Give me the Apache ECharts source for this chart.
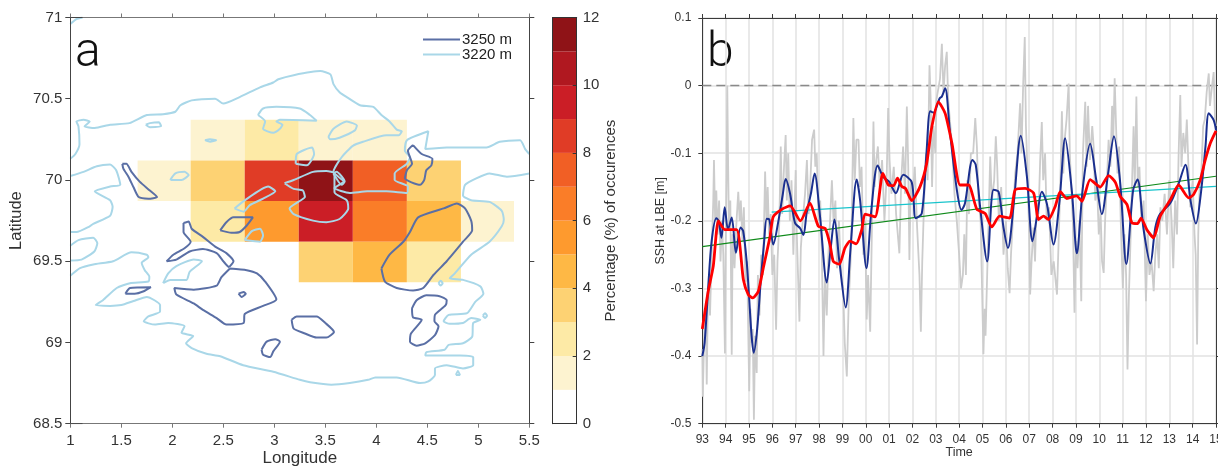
<!DOCTYPE html>
<html>
<head>
<meta charset="utf-8">
<title>SSH at LBE</title>
<script src="https://cdn.jsdelivr.net/npm/echarts@6/dist/echarts.min.js"></script>
<style>
	html, body { margin: 0; padding: 0; background: #fff; }
	#chart { width: 1218px; height: 467px; }
</style>
</head>
<body>
<div id="chart"></div>
<script>
// panel a: occurrence cells
const lonEdges = [1.66, 2.18, 2.71, 3.24, 3.77, 4.30, 4.83, 5.35]
const latEdges = [70.37, 70.12, 69.87, 69.62, 69.37]
const occurrenceRow1 = [null, 1.5, 2.5, 1.5, 1.5, null, null]
const occurrenceRow2 = [1.5, 3.5, 8.5, 11.5, 7.5, 3.5, null]
const occurrenceRow3 = [null, 2.5, 5.5, 9.5, 6.5, 4.5, 1.5]
const occurrenceRow4 = [null, null, null, 3.5, 4.5, 2.5, null]
const levelColors = ["#ffffff", "#fdf3d0", "#fdeaa6", "#fdd273", "#feb845", "#fe9a2e", "#fa7d28", "#f15f25", "#e03c26", "#cb1e26", "#b01820", "#8f1317"]

// short inner ticks at the left corners of panel a
const cornerTickTop = [[1, 71], [1.12, 71]]
const cornerTickBottom = [[1, 68.5], [1.12, 68.5]]

// 3220 m contours (lon, lat), open ones first
const shallowCorner = [[1, 70.96], [1.06, 70.99], [1.12, 71]]
const shallowNorth = [[1, 70.13], [1.05, 70.16], [1.09, 70.22], [1.08, 70.33], [1.06, 70.36], [1.13, 70.37], [1.19, 70.36], [1.14, 70.33], [1.24, 70.32], [1.39, 70.34], [1.58, 70.35], [1.75, 70.40], [1.91, 70.405], [2.03, 70.42], [2.08, 70.46], [2.19, 70.49], [2.42, 70.50], [2.50, 70.47], [2.66, 70.51], [2.86, 70.57], [2.99, 70.60], [3.04, 70.62], [3.19, 70.645], [3.45, 70.67], [3.55, 70.65], [3.58, 70.59], [3.64, 70.54], [3.71, 70.51], [3.84, 70.46], [3.97, 70.45], [4.05, 70.40], [4.13, 70.36], [4.20, 70.31], [4.25, 70.30], [4.22, 70.275], [4.10, 70.275], [3.87, 70.235], [3.77, 70.21], [3.66, 70.14], [3.58, 70.05], [3.68, 69.99], [3.59, 69.95], [3.74, 69.92], [3.91, 69.93], [4.10, 69.93], [4.30, 69.92], [4.31, 69.96], [4.18, 70.00], [4.18, 70.04], [4.30, 70.10], [4.33, 70.14], [4.28, 70.18], [4.30, 70.245], [4.51, 70.30], [4.48, 70.19], [4.69, 70.20], [5.08, 70.20], [5.21, 70.235], [5.41, 70.245], [5.46, 70.19], [5.5, 70.16]]
const shallowWest = [[1, 70.025], [1.13, 70.05], [1.26, 70.085], [1.39, 70.095], [1.45, 70.06], [1.49, 69.97], [1.39, 69.96], [1.24, 69.93], [1.39, 69.875], [1.415, 69.835], [1.39, 69.78], [1.225, 69.73], [1.19, 69.715], [1.06, 69.68], [1, 69.68]]
const shallowWestBlob = [[1, 69.595], [1.08, 69.63], [1.225, 69.645], [1.265, 69.61], [1.235, 69.56], [1.11, 69.51], [1, 69.505]]
const shallowSouth = [[1, 69.41], [1.095, 69.457], [1.225, 69.48], [1.42, 69.50], [1.60, 69.555], [1.75, 69.54], [1.765, 69.525], [1.70, 69.49], [1.73, 69.445], [1.775, 69.405], [1.765, 69.375], [1.585, 69.365], [1.455, 69.335], [1.32, 69.26], [1.25, 69.23], [1.39, 69.225], [1.50, 69.23], [1.62, 69.255], [1.75, 69.28], [1.88, 69.23], [1.88, 69.19], [1.765, 69.16], [1.72, 69.13], [1.83, 69.11], [1.96, 69.12], [2.12, 69.10], [2.09, 69.06], [2.205, 69.04], [2.135, 68.995], [2.19, 68.965], [2.335, 68.93], [2.47, 68.915], [2.695, 68.86], [2.99, 68.82], [3.25, 68.77], [3.35, 68.755], [3.56, 68.74], [3.74, 68.75], [3.92, 68.77], [3.99, 68.785], [4.20, 68.785], [4.43, 68.75], [4.51, 68.76], [4.575, 68.80], [4.575, 68.84], [4.69, 68.86], [4.85, 68.84], [4.95, 68.86], [4.95, 68.91], [4.82, 68.92], [4.48, 68.92], [4.49, 68.94], [4.67, 68.955], [4.71, 68.985], [4.85, 68.995], [4.94, 69.035], [4.95, 69.12], [5.02, 69.14], [4.93, 69.15], [4.85, 69.12], [4.72, 69.115], [4.66, 69.13], [4.71, 69.17], [4.89, 69.18], [4.97, 69.25], [5.05, 69.30], [5.02, 69.345], [4.85, 69.385], [4.72, 69.395], [4.77, 69.425], [4.93, 69.54], [5.11, 69.62], [5.23, 69.715], [5.25, 69.755], [5.23, 69.81], [5.11, 69.865], [4.93, 69.875], [4.85, 69.905], [4.87, 69.97], [4.98, 70.01], [5.11, 70.04], [5.28, 70.02], [5.5, 70.04]]
const shallowBlobs = [
	[[1.74, 70.34], [1.78, 70.35], [1.87, 70.355], [1.89, 70.33], [1.78, 70.325]],
	[[2.32, 70.245], [2.37, 70.25], [2.43, 70.245], [2.37, 70.235]],
	[[2.84, 70.40], [2.89, 70.44], [3.02, 70.45], [3.25, 70.44], [3.35, 70.40], [3.415, 70.365], [3.055, 70.37], [3.02, 70.36], [3.08, 70.34], [3.055, 70.315], [2.99, 70.29], [2.89, 70.315], [2.91, 70.36]],
	[[3.53, 70.265], [3.58, 70.315], [3.71, 70.36], [3.81, 70.335], [3.79, 70.305], [3.64, 70.26], [3.55, 70.25]],
	[[3.21, 70.10], [3.22, 70.16], [3.37, 70.20], [3.39, 70.16], [3.32, 70.09]],
	[[1.98, 70.00], [2.03, 70.04], [2.12, 70.05], [2.16, 70.03], [2.09, 70.00]],
	[[2.61, 69.825], [2.71, 69.875], [2.94, 69.96], [3.01, 69.93], [2.89, 69.885], [2.76, 69.845], [2.70, 69.805]],
	[[2.71, 69.63], [2.78, 69.685], [2.86, 69.70], [2.89, 69.66], [2.86, 69.62]],
	[[1.91, 69.365], [1.96, 69.425], [2.04, 69.47], [2.21, 69.51], [2.29, 69.50], [2.17, 69.435], [2.14, 69.385], [1.98, 69.385]],
	[[3.10, 69.98], [3.19, 70.00], [3.38, 70.05], [3.51, 70.055], [3.59, 70.04], [3.59, 69.925], [3.71, 69.875], [3.725, 69.825], [3.64, 69.76], [3.51, 69.74], [3.38, 69.75], [3.19, 69.79], [3.15, 69.825], [3.235, 69.865], [3.30, 69.895], [3.28, 69.935], [3.19, 69.945]],
	[[3.58, 70.04], [3.61, 70.05], [3.69, 69.99], [3.66, 69.97]],
	[[4.61, 69.365], [4.63, 69.38], [4.65, 69.365], [4.63, 69.35]],
	[[5.045, 69.165], [5.065, 69.18], [5.085, 69.165], [5.065, 69.15]],
	[[4.78, 68.80], [4.80, 68.825], [4.82, 68.80]]
]

// 3250 m contours (lon, lat)
const deepBlobs = [
	[[1.51, 70.10], [1.55, 70.10], [1.60, 70.05], [1.68, 69.99], [1.78, 69.935], [1.85, 69.895], [1.765, 69.885], [1.67, 69.895], [1.62, 69.955], [1.57, 70.02], [1.52, 70.07]],
	[[2.11, 69.735], [2.16, 69.745], [2.19, 69.70], [2.30, 69.65], [2.42, 69.59], [2.53, 69.55], [2.60, 69.50], [2.555, 69.465], [2.50, 69.50], [2.435, 69.55], [2.30, 69.575], [2.17, 69.56], [2.04, 69.51], [1.945, 69.50], [2.01, 69.54], [2.12, 69.58], [2.18, 69.62], [2.11, 69.68]],
	[[2.565, 69.455], [2.73, 69.445], [2.83, 69.425], [2.91, 69.375], [3.02, 69.265], [2.89, 69.225], [2.71, 69.175], [2.70, 69.12], [2.53, 69.11], [2.435, 69.15], [2.30, 69.20], [2.21, 69.24], [2.04, 69.295], [2.02, 69.335], [2.21, 69.325], [2.435, 69.35], [2.48, 69.40]],
	[[2.65, 69.30], [2.70, 69.31], [2.72, 69.30], [2.68, 69.28]],
	[[1.54, 69.30], [1.585, 69.335], [1.79, 69.34], [1.72, 69.315], [1.63, 69.30]],
	[[2.47, 69.69], [2.53, 69.74], [2.60, 69.77], [2.79, 69.77], [2.73, 69.72], [2.66, 69.68], [2.58, 69.675]],
	[[3.17, 69.14], [3.22, 69.16], [3.415, 69.16], [3.50, 69.12], [3.585, 69.065], [3.51, 69.03], [3.415, 69.03], [3.30, 69.055], [3.19, 69.085]],
	[[2.875, 68.955], [2.925, 69.005], [3.01, 69.02], [3.055, 69.005], [2.99, 68.945], [2.96, 68.91], [2.89, 68.925]],
	[[4.05, 69.455], [4.13, 69.54], [4.265, 69.62], [4.33, 69.68], [4.41, 69.77], [4.66, 69.825], [4.79, 69.855], [4.87, 69.825], [4.93, 69.75], [4.94, 69.69], [4.85, 69.62], [4.69, 69.50], [4.56, 69.415], [4.46, 69.335], [4.36, 69.32], [4.20, 69.335], [4.085, 69.375]],
	[[4.35, 69.21], [4.395, 69.26], [4.49, 69.29], [4.62, 69.285], [4.69, 69.26], [4.68, 69.23], [4.575, 69.17], [4.57, 69.13], [4.61, 69.10], [4.575, 69.045], [4.48, 68.995], [4.395, 68.98], [4.33, 69.005], [4.34, 69.055], [4.445, 69.14], [4.36, 69.155]],
	[[4.36, 70.215], [4.445, 70.16], [4.55, 70.13], [4.54, 70.09], [4.49, 70.06], [4.47, 70.00], [4.43, 69.97], [4.28, 70.01], [4.30, 70.06], [4.35, 70.10], [4.31, 70.18]]
]

// panel b: year since 1900, SSH in m
const yearTicks = ["93", "94", "95", "96", "97", "98", "99", "00", "01", "02", "03", "04", "05", "06", "07", "08", "09", "10", "11", "12", "13", "14", "15"]
const sshDaily = [[93, -.39], [93.02, -.46], [93.06, -.40], [93.1, -.36], [93.15, -.33], [93.19, -.442], [93.23, -.33], [93.28, -.28], [93.33, -.34], [93.4, -.25], [93.47, -.17], [93.5, -.11], [93.55, -.2], [93.6, -.155], [93.65, -.22], [93.72, -.17], [93.78, -.26], [93.84, -.20], [93.9, -.25], [93.97, -.396],
	[94, -.24], [94.04, -.13], [94.07, 0], [94.1, -.1], [94.14, -.21], [94.2, -.17], [94.26, -.398], [94.3, -.22], [94.38, -.27], [94.45, -.21], [94.54, -.157], [94.6, -.2], [94.65, -.17], [94.72, -.23], [94.78, -.18], [94.85, -.29], [94.92, -.26],
	[95.01, -.452], [95.06, -.33], [95.11, -.38], [95.16, -.36], [95.21, -.494], [95.26, -.37], [95.33, -.425], [95.38, -.28], [95.45, -.34], [95.52, -.25], [95.6, -.28], [95.69, -.127], [95.75, -.2], [95.8, -.15], [95.86, -.22], [95.93, -.19],
	[96, -.28], [96.08, -.25], [96.16, -.361], [96.22, -.26], [96.3, -.2], [96.36, -.09], [96.42, -.19], [96.5, -.12], [96.57, -.073], [96.62, -.17], [96.68, -.1], [96.75, -.2], [96.82, -.14], [96.9, -.25],
	[97, -.125], [97.03, -.2], [97.1, -.28], [97.16, -.349], [97.22, -.24], [97.3, -.2], [97.4, -.16], [97.48, -.11], [97.55, -.19], [97.62, -.15], [97.7, -.08], [97.79, -.065], [97.84, -.12], [97.9, -.1], [97.98, -.2],
	[98.05, -.17], [98.12, -.25], [98.19, -.40], [98.25, -.28], [98.33, -.34], [98.4, -.25], [98.47, -.2], [98.55, -.14], [98.62, -.2], [98.7, -.17], [98.77, -.27], [98.85, -.2], [98.95, -.28],
	[99.03, -.3], [99.1, -.38], [99.19, -.43], [99.27, -.32], [99.35, -.26], [99.4, -.2], [99.47, -.048], [99.53, -.14], [99.6, -.08], [99.69, -.08], [99.75, -.15], [99.82, -.12], [99.9, -.25], [99.97, -.2],
	[100.04, -.346], [100.1, -.28], [100.19, -.364], [100.26, -.22], [100.33, -.053], [100.38, -.15], [100.45, -.11], [100.52, -.09], [100.6, -.15], [100.7, -.11], [100.8, -.2], [100.9, -.13], [100.96, -.033],
	[101.02, -.11], [101.1, -.16], [101.2, -.12], [101.3, -.19], [101.44, -.248], [101.52, -.14], [101.6, -.09], [101.68, -.16], [101.76, -.031], [101.82, -.12], [101.87, -.258], [101.93, -.14],
	[102, -.17], [102.1, -.12], [102.2, -.21], [102.3, -.28], [102.36, -.364], [102.42, -.26], [102.5, -.17], [102.58, -.1], [102.65, -.14], [102.73, .03], [102.78, -.02], [102.84, -.15], [102.9, -.06], [102.98, -.1],
	[103.03, -.02], [103.11, -.004], [103.18, .01], [103.26, .062], [103.33, -.01], [103.4, .03], [103.47, .05], [103.53, -.02], [103.6, -.05], [103.7, -.09], [103.8, -.16], [103.9, -.2],
	[104, -.25], [104.08, -.30], [104.16, -.28], [104.22, -.22], [104.29, -.28], [104.35, -.14], [104.42, -.19], [104.5, -.1], [104.6, -.1], [104.69, -.048], [104.76, -.09], [104.83, -.17], [104.92, -.2],
	[105.04, -.397], [105.09, -.33], [105.13, -.37], [105.2, -.28], [105.26, -.2], [105.33, -.105], [105.4, -.17], [105.5, -.14], [105.57, -.075], [105.63, -.12], [105.7, -.2], [105.8, -.15], [105.9, -.25],
	[106, -.2], [106.08, -.27], [106.16, -.307], [106.22, -.25], [106.3, -.2], [106.4, -.13], [106.5, -.1], [106.61, -.026], [106.67, -.1], [106.74, 0], [106.81, .072], [106.86, -.06], [106.92, -.12],
	[107, -.22], [107.04, -.309], [107.1, -.26], [107.18, -.21], [107.25, -.26], [107.32, -.17], [107.4, -.19], [107.47, -.11], [107.54, -.054], [107.6, -.14], [107.68, -.1], [107.75, -.2], [107.85, -.18], [107.95, -.28],
	[108.05, -.26], [108.19, -.309], [108.26, -.23], [108.33, -.15], [108.4, -.038], [108.46, -.13], [108.52, -.08], [108.6, -.05], [108.69, .003], [108.74, -.1], [108.8, -.15], [108.87, -.2], [108.94, -.336],
	[109, -.23], [109.07, -.27], [109.15, -.2], [109.23, -.319], [109.3, -.1], [109.4, -.024], [109.46, -.12], [109.52, -.03], [109.6, -.11], [109.7, -.06], [109.76, -.09], [109.83, -.17], [109.9, -.14], [109.98, -.22],
	[110.06, -.19], [110.12, -.26], [110.19, -.277], [110.25, -.2], [110.32, -.15], [110.4, -.08], [110.48, -.12], [110.55, -.03], [110.6, -.08], [110.66, .011], [110.72, -.06], [110.78, -.13], [110.85, -.09], [110.92, -.2],
	[111.01, -.3], [111.08, -.22], [111.15, -.28], [111.21, -.42], [111.27, -.31], [111.33, -.24], [111.4, -.15], [111.47, -.06], [111.52, -.15], [111.59, -.016], [111.65, -.15], [111.72, -.12], [111.8, -.2], [111.9, -.17],
	[112, -.319], [112.08, -.22], [112.15, -.28], [112.24, -.26], [112.33, -.304], [112.4, -.25], [112.48, -.22], [112.55, -.27], [112.62, -.18], [112.7, -.2], [112.8, -.16], [112.9, -.22],
	[113, -.14], [113.1, -.2], [113.17, -.27], [113.25, -.17], [113.33, -.22], [113.4, -.1], [113.47, -.014], [113.52, -.12], [113.6, -.07], [113.68, -.1], [113.75, -.05], [113.82, -.12], [113.9, -.18],
	[114, -.14], [114.08, -.22], [114.13, -.25], [114.19, -.383], [114.24, -.22], [114.3, -.15], [114.37, -.13], [114.45, -.06], [114.52, -.05], [114.6, -.01], [114.69, .018], [114.74, -.03], [114.8, -.01], [114.9, .02], [114.96, -.05], [115, -.06]]
const sshMonthly = [[93, -.40], [93.1, -.38], [93.25, -.30], [93.4, -.23], [93.6, -.196], [93.7, -.2], [93.82, -.225], [93.96, -.18], [94.1, -.213], [94.26, -.195], [94.44, -.247], [94.64, -.21], [94.75, -.215], [94.9, -.26], [95, -.31], [95.1, -.365], [95.2, -.395], [95.35, -.36], [95.5, -.29], [95.65, -.23], [95.76, -.197], [95.87, -.198], [96.04, -.235], [96.26, -.2], [96.45, -.16], [96.57, -.138], [96.76, -.16], [96.97, -.203], [97.19, -.211], [97.33, -.221], [97.47, -.188], [97.65, -.16], [97.81, -.13], [98.04, -.193], [98.33, -.291], [98.5, -.24], [98.66, -.198], [98.87, -.26], [99.14, -.328], [99.35, -.24], [99.61, -.139], [99.76, -.17], [100.03, -.27], [100.25, -.18], [100.51, -.118], [100.75, -.135], [101, -.142], [101.29, -.159], [101.61, -.132], [101.97, -.143], [102.14, -.196], [102.4, -.189], [102.6, -.1], [102.76, -.038], [102.9, -.04], [103.16, -.019], [103.26, -.016], [103.4, -.004], [103.61, -.07], [103.9, -.154], [104.1, -.184], [104.25, -.174], [104.57, -.11], [104.71, -.117], [104.9, -.18], [105.2, -.26], [105.47, -.154], [105.69, -.157], [105.9, -.21], [106.09, -.24], [106.35, -.17], [106.64, -.074], [106.9, -.134], [107.14, -.23], [107.35, -.19], [107.54, -.157], [107.76, -.175], [108.04, -.235], [108.3, -.17], [108.54, -.078], [108.83, -.157], [109.04, -.248], [109.3, -.15], [109.61, -.086], [109.86, -.137], [110.11, -.19], [110.38, -.13], [110.63, -.075], [110.9, -.145], [111.16, -.264], [111.45, -.155], [111.64, -.139], [111.9, -.213], [112.19, -.263], [112.4, -.21], [112.6, -.19], [113.04, -.174], [113.4, -.145], [113.69, -.117], [113.91, -.17], [114.14, -.204], [114.36, -.157], [114.55, -.09], [114.69, -.041], [114.9, -.051], [115, -.066]]
const sshAnnual = [[93, -.36], [93.25, -.305], [93.47, -.267], [93.69, -.2], [93.97, -.213], [94.47, -.213], [94.76, -.287], [94.97, -.309], [95.16, -.314], [95.4, -.304], [95.61, -.27], [95.9, -.223], [96.04, -.194], [96.4, -.183], [96.76, -.178], [97.2, -.2], [97.61, -.174], [97.97, -.208], [98.26, -.211], [98.47, -.235], [98.61, -.26], [98.87, -.264], [99.11, -.24], [99.33, -.23], [99.59, -.234], [99.83, -.213], [99.97, -.19], [100.4, -.194], [100.73, -.13], [100.97, -.147], [101.19, -.148], [101.36, -.137], [101.54, -.149], [101.7, -.152], [101.97, -.17], [102.33, -.149], [102.61, -.115], [102.83, -.061], [103.11, -.024], [103.4, -.041], [103.69, -.085], [104.04, -.147], [104.4, -.147], [104.76, -.183], [105.11, -.189], [105.4, -.209], [105.73, -.193], [106.16, -.196], [106.4, -.154], [106.83, -.152], [107.19, -.159], [107.4, -.198], [107.61, -.193], [107.83, -.198], [108.11, -.179], [108.33, -.157], [108.61, -.167], [109.03, -.163], [109.26, -.171], [109.61, -.139], [110.04, -.15], [110.4, -.133], [110.69, -.143], [110.9, -.164], [111.19, -.176], [111.4, -.203], [111.64, -.204], [111.79, -.196], [112.04, -.213], [112.33, -.225], [112.61, -.193], [113.04, -.169], [113.4, -.147], [113.83, -.166], [114.04, -.161], [114.33, -.139], [114.54, -.11], [114.76, -.085], [115, -.067]]
const trendLong = [[93, -.238], [115, -.134]]
const trendShort = [[95.97, -.187], [115, -.149]]
const zeroLine = [[93, 0], [115, 0]]

const fontName = "Liberation Sans"
const textColor = "#333"

function closed(points) {
	return points.concat([points[0]])
}

function lineSeries(data, color, width, axis, extra) {
	return Object.assign({
		type: "line",
		data: data,
		xAxisIndex: axis,
		yAxisIndex: axis,
		showSymbol: false,
		lineStyle: { color: color, width: width },
		itemStyle: { color: color },
		silent: true,
		z: 3,
	}, extra || {})
}

// axis with the labels and ticks drawn on one side of a panel
function sideAxis(position, gridIndex, min, max, interval, lineColor, extra) {
	let axis = {
		type: "value",
		gridIndex: gridIndex,
		position: position,
		min: min,
		max: max,
		interval: interval,
		z: 5,
		axisLine: { show: true, onZero: false, lineStyle: { color: lineColor, width: 1 } },
		axisTick: { show: true, length: 4, lineStyle: { color: lineColor } },
		axisLabel: { show: false },
		splitLine: { show: false },
	}
	return Object.assign(axis, extra || {})
}

function labelStyle(size, margin, formatter) {
	return { show: true, fontFamily: fontName, fontSize: size, color: textColor, margin: margin, formatter: formatter, hideOverlap: false, showMinLabel: true, showMaxLabel: true }
}

function nameStyle(size) {
	return { fontFamily: fontName, fontSize: size, color: textColor }
}

let occurrenceCells = []
;[occurrenceRow1, occurrenceRow2, occurrenceRow3, occurrenceRow4].forEach((row, j) => {
	row.forEach((value, i) => {
		if (value !== null) occurrenceCells.push([i, j, value])
	})
})

function renderCell(params, api) {
	let i = api.value(0)
	let j = api.value(1)
	let a = api.coord([lonEdges[i], latEdges[j]])
	let b = api.coord([lonEdges[i + 1], latEdges[j + 1]])
	return {
		type: "rect",
		shape: { x: a[0], y: a[1], width: b[0] - a[0], height: b[1] - a[1] },
		style: { fill: levelColors[Math.floor(api.value(2))] },
	}
}

function renderLevel(params, api) {
	let level = api.value(0)
	let a = api.coord([0, level + 1])
	let b = api.coord([1, level])
	return {
		type: "rect",
		shape: { x: a[0], y: a[1], width: b[0] - a[0], height: b[1] - a[1] },
		style: { fill: levelColors[level] },
	}
}

const lonFormat = (v) => String(v)
const yearFormat = (v) => yearTicks[v - 93]
const grayA = "#777"
const darkA = "#444"
const darkB = "#3a3a3a"
const splitB = { show: true, lineStyle: { color: "#e2e2e2", width: 1.5 } }

let series = [
	{ type: "custom", renderItem: renderCell, data: occurrenceCells, xAxisIndex: 0, yAxisIndex: 0, silent: true, z: 2, encode: { x: 0, y: 1 } },
]
;[shallowCorner, shallowNorth, shallowWest, shallowWestBlob, shallowSouth].forEach((c) => {
	series.push(lineSeries(c, "#a9d7e8", 2, 0, { name: "3220 m", smooth: 0.2 }))
})
shallowBlobs.forEach((c) => {
	series.push(lineSeries(closed(c), "#a9d7e8", 2, 0, { name: "3220 m", smooth: 0.2 }))
})
deepBlobs.forEach((c) => {
	series.push(lineSeries(closed(c), "#5a6fa5", 2, 0, { name: "3250 m", smooth: 0.2, z: 4 }))
})
;[cornerTickTop, cornerTickBottom].forEach((c) => {
	series.push(lineSeries(c, darkA, 1, 0, { z: 6 }))
})
series.push({ type: "custom", renderItem: renderLevel, data: levelColors.map((c, i) => [i]), xAxisIndex: 4, yAxisIndex: 4, silent: true, z: 2, encode: { y: 0 } })
series.push(lineSeries(zeroLine, "#8a8a8a", 1.5, 2, { lineStyle: { color: "#8a8a8a", width: 1.5, type: [9, 5] }, z: 6 }))
series.push(lineSeries(sshDaily, "#cccccc", 1.8, 2, { z: 6 }))
series.push(lineSeries(trendLong, "#0f8a1a", 1.2, 2, { z: 7 }))
series.push(lineSeries(trendShort, "#19c4cc", 1.2, 2, { z: 7 }))
series.push(lineSeries(sshMonthly, "#1a2f8f", 2, 2, { smooth: 0.3, z: 8 }))
series.push(lineSeries(sshAnnual, "#ff0000", 2.8, 2, { smooth: 0.2, z: 9 }))

let myChart = echarts.init(document.getElementById("chart"), null, { renderer: "canvas" })
let option = {
	animation: false,
	backgroundColor: "#fff",
	legend: {
		data: [{ name: "3250 m", icon: "rect" }, { name: "3220 m", icon: "rect" }],
		orient: "vertical",
		left: 423,
		top: 32,
		padding: 0,
		itemGap: 0,
		itemWidth: 37,
		itemHeight: 2,
		selectedMode: false,
		textStyle: { fontFamily: fontName, fontSize: 15, color: "#222", padding: [0, 0, 0, -3], lineHeight: 15 },
	},
	graphic: [
		{ type: "text", left: 75, top: 30, style: { text: "a", fontFamily: "Roboto", fontWeight: 300, fontSize: 48, fill: "#111" } },
		{ type: "text", left: 707, top: 30, style: { text: "b", fontFamily: "Roboto", fontWeight: 300, fontSize: 48, fill: "#111" } },
	],
	grid: [
		{ left: 70.3, top: 17.5, width: 459, height: 406.2, outerBoundsMode: "none" },
		{ left: 552.7, top: 17.5, width: 24, height: 406.2, outerBoundsMode: "none" },
		{ left: 702.3, top: 18, width: 513.7, height: 405.7, outerBoundsMode: "none" },
	],
	xAxis: [
		sideAxis("bottom", 0, 1, 5.5, 0.5, grayA, { axisLabel: labelStyle(15, 10, lonFormat), name: "Longitude", nameLocation: "middle", nameGap: 26, nameMoveOverlap: false, nameTextStyle: nameStyle(17) }),
		sideAxis("top", 0, 1, 5.5, 0.5, grayA),
		sideAxis("bottom", 2, 93, 115, 1, darkB, { axisLabel: labelStyle(12, 10, yearFormat), splitLine: splitB, name: "Time", nameLocation: "middle", nameGap: 22, nameMoveOverlap: false, nameTextStyle: nameStyle(12.5) }),
		sideAxis("top", 2, 93, 115, 1, darkB),
		sideAxis("bottom", 1, 0, 1, 1, "#333", { axisTick: { show: false } }),
		sideAxis("top", 1, 0, 1, 1, "#333", { axisTick: { show: false } }),
	],
	yAxis: [
		sideAxis("left", 0, 68.5, 71, 0.5, darkA, { axisLabel: labelStyle(15, 8, lonFormat), axisTick: { show: true, length: 5, lineStyle: { color: darkA } }, name: "Latitude", nameLocation: "middle", nameRotate: 90, nameGap: 45, nameTextStyle: nameStyle(16.5) }),
		sideAxis("right", 0, 68.5, 71, 0.5, darkA, { axisTick: { show: true, length: 5, lineStyle: { color: darkA } } }),
		sideAxis("left", 2, -0.5, 0.1, 0.1, darkB, { axisLabel: labelStyle(12, 11), splitLine: splitB, name: "SSH at LBE [m]", nameLocation: "middle", nameRotate: 90, nameGap: 35, nameTextStyle: nameStyle(12.5) }),
		sideAxis("right", 2, -0.5, 0.1, 0.1, darkB, { axisTick: { show: true, length: 2, lineStyle: { color: darkB } } }),
		sideAxis("right", 1, 0, 12, 2, "#333", {
			axisTick: { show: true, inside: true, length: 4, lineStyle: { color: "#333" } },
			axisLabel: labelStyle(15, 6),
			name: "Percentage (%) of occurences",
			nameLocation: "middle",
			nameRotate: 90,
			nameGap: 27,
			nameTextStyle: nameStyle(15),
		}),
		sideAxis("left", 1, 0, 12, 2, "#333", { axisTick: { show: false } }),
	],
	series: series,
}
myChart.setOption(option)
</script>
</body>
</html>
